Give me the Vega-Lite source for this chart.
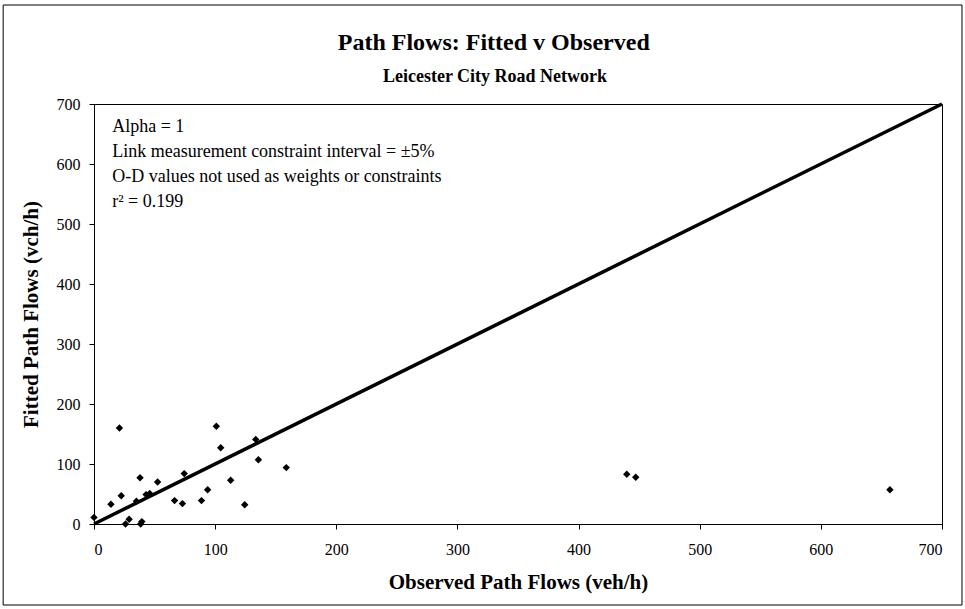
{
  "$schema": "https://vega.github.io/schema/vega-lite/v6.json",
  "width": 848,
  "height": 420,
  "autosize": {"type": "none"},
  "padding": {"left": 94, "top": 104, "right": 23, "bottom": 85},
  "background": "white",
  "config": {
    "view": {"stroke": "black", "strokeWidth": 1},
    "font": "Liberation Serif"
  },
  "datasets": {
    "points": [
      {"observed": 0, "fitted": 11},
      {"observed": 14, "fitted": 33},
      {"observed": 21, "fitted": 160},
      {"observed": 22.5, "fitted": 47},
      {"observed": 26, "fitted": 0},
      {"observed": 29, "fitted": 8},
      {"observed": 35, "fitted": 38},
      {"observed": 38, "fitted": 77},
      {"observed": 38.5, "fitted": 0},
      {"observed": 39.5, "fitted": 4},
      {"observed": 43, "fitted": 49},
      {"observed": 46, "fitted": 51},
      {"observed": 52.5, "fitted": 70},
      {"observed": 66.5, "fitted": 39},
      {"observed": 73, "fitted": 34},
      {"observed": 74.5, "fitted": 84},
      {"observed": 88.7, "fitted": 39},
      {"observed": 93.8, "fitted": 57},
      {"observed": 101, "fitted": 163},
      {"observed": 104.6, "fitted": 127},
      {"observed": 112.8, "fitted": 73},
      {"observed": 124.4, "fitted": 32},
      {"observed": 133.5, "fitted": 141},
      {"observed": 135.7, "fitted": 107},
      {"observed": 158.7, "fitted": 94},
      {"observed": 439.8, "fitted": 83},
      {"observed": 447.2, "fitted": 78},
      {"observed": 657, "fitted": 57}
    ],
    "diagonal": [
      {"observed": 0, "fitted": 0},
      {"observed": 700, "fitted": 700}
    ]
  },
  "layer": [
    {
      "data": {"name": "diagonal"},
      "mark": {"type": "line", "color": "black", "strokeWidth": 3.5},
      "encoding": {
        "x": {
          "field": "observed",
          "type": "quantitative",
          "scale": {"domain": [0, 700], "nice": false, "zero": true},
          "axis": {
            "values": [0, 100, 200, 300, 400, 500, 600, 700],
            "title": "Observed Path Flows (veh/h)",
            "titleFont": "Liberation Serif",
            "titleFontSize": 21,
            "titleFontWeight": "bold",
            "titleColor": "black",
            "titlePadding": 14,
            "labelFont": "Liberation Serif",
            "labelFontSize": 16,
            "labelColor": "black",
            "labelPadding": 12,
            "tickColor": "black",
            "tickSize": 5,
            "domainColor": "black",
            "grid": false
          }
        },
        "y": {
          "field": "fitted",
          "type": "quantitative",
          "scale": {"domain": [0, 700], "nice": false, "zero": true},
          "axis": {
            "values": [0, 100, 200, 300, 400, 500, 600, 700],
            "title": "Fitted Path Flows (vch/h)",
            "titleFont": "Liberation Serif",
            "titleFontSize": 21,
            "titleFontWeight": "bold",
            "titleColor": "black",
            "titlePadding": 15,
            "labelFont": "Liberation Serif",
            "labelFontSize": 16,
            "labelColor": "black",
            "labelPadding": 9,
            "tickColor": "black",
            "tickSize": 5,
            "domainColor": "black",
            "grid": false
          }
        }
      }
    },
    {
      "data": {"name": "points"},
      "mark": {"type": "point", "shape": "diamond", "filled": true, "color": "black", "size": 55, "opacity": 1},
      "encoding": {
        "x": {"field": "observed", "type": "quantitative"},
        "y": {"field": "fitted", "type": "quantitative"}
      }
    },
    {
      "data": {"values": [{}]},
      "mark": {
        "type": "text",
        "align": "left",
        "baseline": "top",
        "font": "Liberation Serif",
        "fontSize": 18,
        "lineHeight": 25,
        "color": "black",
        "text": ["Alpha = 1", "Link measurement constraint interval = ±5%", "O-D values not used as weights or constraints", "r² = 0.199"]
      },
      "encoding": {
        "x": {"datum": 15},
        "y": {"datum": 677}
      }
    },
    {
      "data": {"values": [{}]},
      "mark": {
        "type": "text",
        "align": "center",
        "baseline": "middle",
        "font": "Liberation Serif",
        "fontSize": 24,
        "fontWeight": "bold",
        "color": "black",
        "clip": false,
        "text": "Path Flows: Fitted v Observed"
      },
      "encoding": {
        "x": {"datum": 330},
        "y": {"datum": 801}
      }
    },
    {
      "data": {"values": [{}]},
      "mark": {
        "type": "text",
        "align": "center",
        "baseline": "middle",
        "font": "Liberation Serif",
        "fontSize": 18,
        "fontWeight": "bold",
        "color": "black",
        "clip": false,
        "text": "Leicester City Road Network"
      },
      "encoding": {
        "x": {"datum": 331},
        "y": {"datum": 745}
      }
    },
    {
      "data": {"values": [{}]},
      "mark": {"type": "rect", "fill": null, "fillOpacity": 0, "stroke": "black", "strokeWidth": 1, "clip": false},
      "encoding": {
        "x": {"datum": -75},
        "x2": {"datum": 716.5},
        "y": {"datum": -135},
        "y2": {"datum": 865}
      }
    }
  ]
}
